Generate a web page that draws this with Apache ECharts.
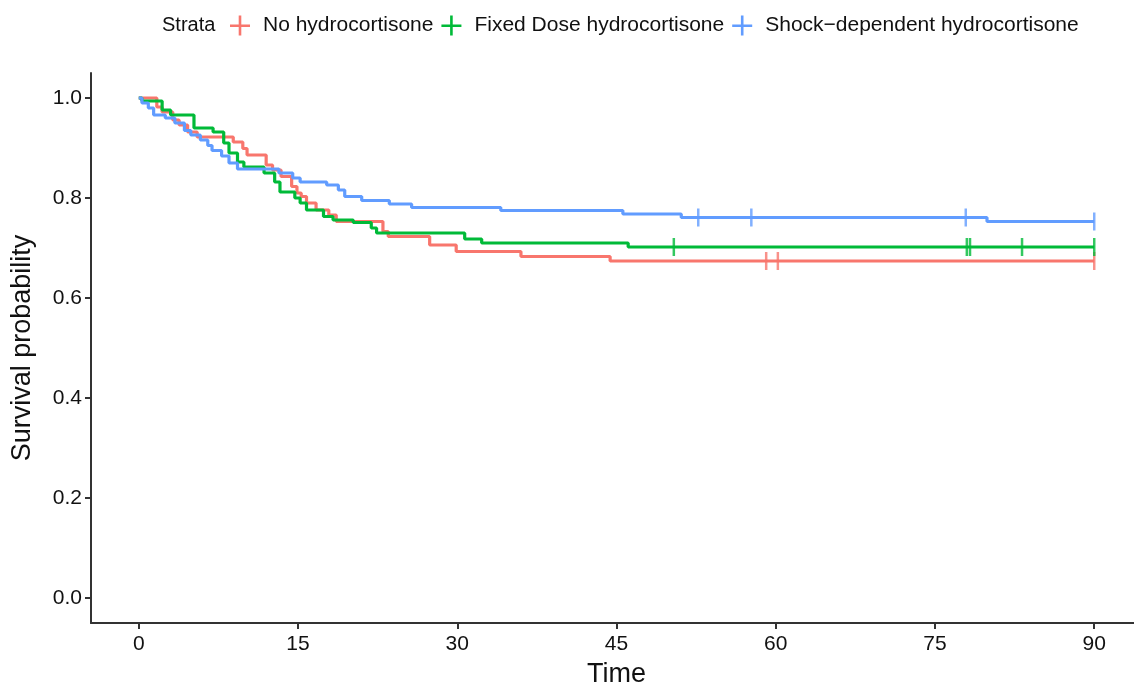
<!DOCTYPE html>
<html>
<head>
<meta charset="utf-8">
<title>Survival curves</title>
<script src="https://cdn.jsdelivr.net/npm/echarts@6/dist/echarts.min.js"></script>
<style>
  html, body { margin: 0; padding: 0; background: #fff; }
  #chart { width: 1134px; height: 686px; }
</style>
</head>
<body>
<div id="chart"></div>
<script>
// strata names
const strata = ['No hydrocortisone', 'Fixed Dose hydrocortisone', 'Shock\u2212dependent hydrocortisone'];
const colors = ['#F8766D', '#00BA38', '#619CFF'];

// Kaplan-Meier steps: [time, survival after the drop]
const noHydro = [
  [0, 1.0], [1.7, 0.982], [2.2, 0.972], [3.2, 0.956], [3.8, 0.946], [4.6, 0.932],
  [5.5, 0.922], [8.9, 0.912], [9.8, 0.899], [10.2, 0.886], [12.0, 0.866], [12.6, 0.856],
  [13.4, 0.843], [14.4, 0.823], [14.9, 0.81], [15.3, 0.803], [15.8, 0.79], [16.7, 0.776],
  [17.9, 0.766], [18.6, 0.753], [23.0, 0.733], [23.5, 0.723], [27.4, 0.706], [29.9, 0.693],
  [36.0, 0.683], [44.4, 0.674], [90, 0.674]
];
const fixedDose = [
  [0, 1.0], [0.3, 0.994], [2.2, 0.976], [3.0, 0.966], [5.2, 0.94], [7.0, 0.932],
  [8.0, 0.91], [8.5, 0.89], [9.3, 0.872], [9.9, 0.862], [11.8, 0.85], [12.8, 0.832],
  [13.3, 0.812], [14.7, 0.80], [15.2, 0.79], [15.8, 0.776], [17.4, 0.763], [18.3, 0.756],
  [20.2, 0.751], [21.9, 0.74], [22.4, 0.73], [30.7, 0.718], [32.3, 0.71], [46.1, 0.702],
  [90, 0.702]
];
const shockDep = [
  [0, 1.0], [0.3, 0.99], [0.9, 0.98], [1.4, 0.966], [2.5, 0.96], [3.4, 0.95], [4.3, 0.935],
  [4.9, 0.926], [5.8, 0.916], [6.5, 0.905], [6.9, 0.895], [7.8, 0.884], [8.5, 0.87],
  [9.3, 0.858], [13.2, 0.85], [14.5, 0.84], [15.2, 0.832], [17.7, 0.826], [18.8, 0.816],
  [19.4, 0.803], [21.0, 0.795], [23.6, 0.788], [25.7, 0.781], [34.1, 0.775], [45.6, 0.768],
  [51.1, 0.761], [79.9, 0.753], [90, 0.753]
];

// censoring marks
const noHydroCens = [[59.1, 0.674], [60.2, 0.674], [90, 0.674]];
const fixedDoseCens = [[50.4, 0.702], [78.0, 0.702], [78.3, 0.702], [83.2, 0.702], [90, 0.702]];
const shockDepCens = [[52.7, 0.761], [57.7, 0.761], [77.9, 0.761], [90, 0.753]];

const xTicks = [0, 15, 30, 45, 60, 75, 90];
const yTicks = [0, 0.2, 0.4, 0.6, 0.8, 1.0];

const curves = [noHydro, fixedDose, shockDep];
const cens = [noHydroCens, fixedDoseCens, shockDepCens];

const chart = echarts.init(document.getElementById('chart'));
const plusIcon = 'path://M0,9H20V11.6H0Z M8.7,0H11.3V20H8.7Z';
const font = '"Liberation Sans", Arial, sans-serif';

const series = [];
curves.forEach((d, i) => {
  series.push({
    name: strata[i],
    type: 'line',
    step: 'end',
    data: d,
    showSymbol: false,
    lineStyle: { color: colors[i], width: 3.2 },
    itemStyle: { color: colors[i] },
    z: 2 + i
  });
});
cens.forEach((d, i) => {
  series.push({
    name: 'cens' + i,
    type: 'scatter',
    data: d,
    symbol: 'rect',
    symbolSize: [2.5, 18],
    itemStyle: { color: colors[i] },
    z: 6
  });
});

const axisLineStyle = { color: '#333', width: 2 };

chart.setOption({
  animation: false,
  textStyle: { fontFamily: font },
  title: {
    text: 'Strata',
    left: 157,
    top: 10,
    textStyle: { fontSize: 20, fontWeight: 'normal', color: '#111', fontFamily: font }
  },
  legend: {
    data: strata.map((s, i) => ({ name: s, icon: plusIcon, itemStyle: { color: colors[i] } })),
    left: 225,
    top: 10,
    itemWidth: 20,
    itemHeight: 20,
    itemGap: 8,
    textStyle: { fontSize: 21, color: '#111', fontFamily: font, padding: [0, 0, 0, 8] }
  },
  grid: { left: 91, top: 73, width: 1051, height: 550, outerBoundsMode: 'none', containLabel: false },
  xAxis: {
    type: 'value',
    min: -4.5,
    max: 94.5,
    name: 'Time',
    nameLocation: 'middle',
    nameGap: 38,
    nameTextStyle: { fontSize: 27, color: '#111' },
    axisLine: { onZero: false, lineStyle: axisLineStyle },
    axisTick: { show: true, customValues: xTicks, length: 6, lineStyle: axisLineStyle },
    axisLabel: { customValues: xTicks, fontSize: 21, color: '#111', margin: 11 },
    splitLine: { show: false }
  },
  yAxis: {
    type: 'value',
    min: -0.05,
    max: 1.05,
    name: 'Survival probability',
    nameLocation: 'middle',
    nameGap: 55,
    nameTextStyle: { fontSize: 27, color: '#111' },
    axisLine: { show: true, onZero: false, lineStyle: axisLineStyle },
    axisTick: { show: true, customValues: yTicks, length: 6, lineStyle: axisLineStyle },
    axisLabel: {
      customValues: yTicks,
      fontSize: 21,
      color: '#111',
      margin: 9,
      formatter: (v) => v.toFixed(1)
    },
    splitLine: { show: false }
  },
  series: series
});
</script>
</body>
</html>
